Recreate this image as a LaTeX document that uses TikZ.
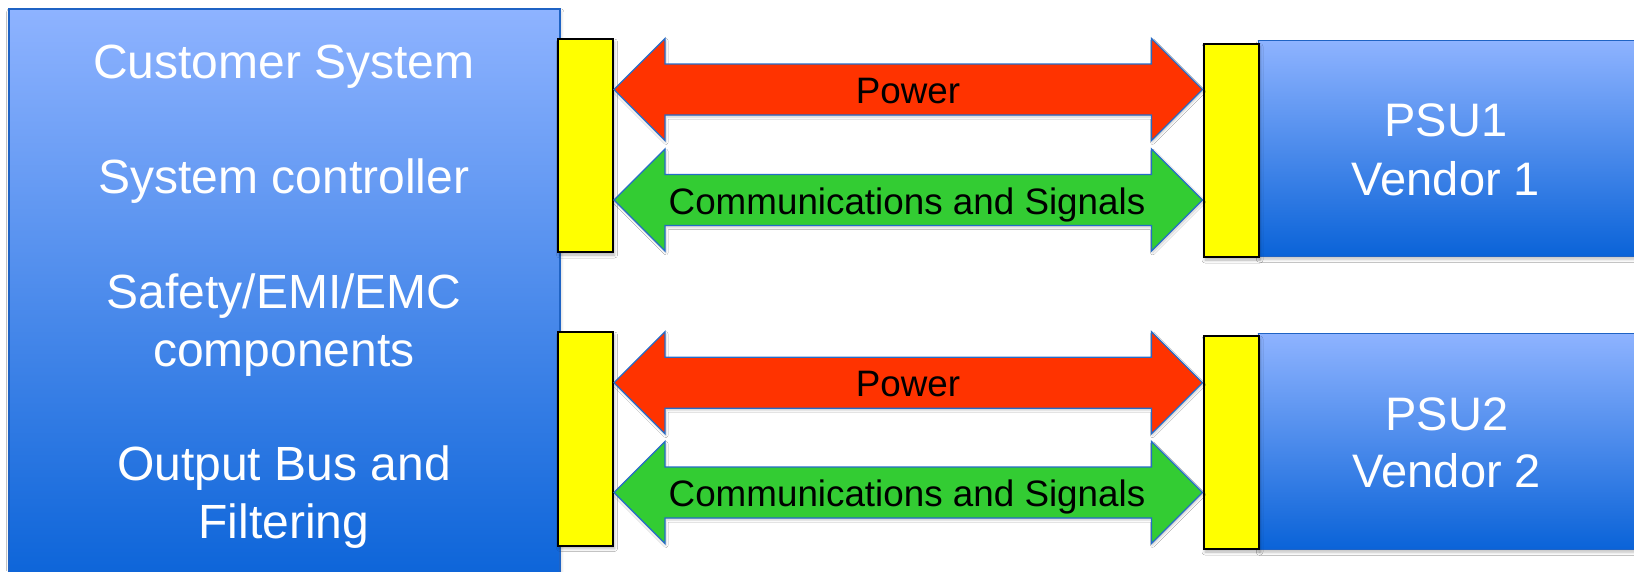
\documentclass[tikz,border=0pt]{standalone}
\usepackage{fontspec}
\setmainfont{Liberation Sans}
\usetikzlibrary{calc,shadows.blur}
\definecolor{boxtop}{RGB}{142,179,255}
\definecolor{boxbot}{RGB}{10,99,216}
\definecolor{boxline}{RGB}{31,99,196}
\definecolor{pwr}{RGB}{255,51,0}
\definecolor{sig}{RGB}{51,204,51}
\definecolor{arrline}{RGB}{38,108,200}
\definecolor{conn}{RGB}{255,255,0}
\newcommand\mkarrow[4]{%
  \coordinate (tmpL) at (#2.east |- #1);
  \coordinate (tmpR) at (#3.west |- #1);
  \draw[#4] (tmpL) -- ($(tmpL)+(51,-51)$) -- ($(tmpL)+(51,-25.5)$)
    -- ($(tmpR)+(-51,-25.5)$) -- ($(tmpR)+(-51,-51)$) -- (tmpR)
    -- ($(tmpR)+(-51,51)$) -- ($(tmpR)+(-51,25.5)$)
    -- ($(tmpL)+(51,25.5)$) -- ($(tmpL)+(51,51)$) -- cycle;
}
\begin{document}
\begin{tikzpicture}[x=1pt,y=-1pt,
  bluebox/.style={draw=boxline, line width=1.5pt, top color=boxtop, bottom color=boxbot,
    rectangle, inner sep=0pt, anchor=north west,
    blur shadow={shadow xshift=1pt, shadow yshift=-3pt, shadow blur radius=3pt, shadow opacity=25}},
  connbox/.style={draw=black, line width=2pt, fill=conn, rectangle, inner sep=0pt, anchor=north west,
    blur shadow={shadow xshift=1.5pt, shadow yshift=-3pt, shadow blur radius=3pt, shadow opacity=30}},
  pwrarrow/.style={draw=arrline, line width=1.3pt, fill=pwr, line join=miter,
    blur shadow={shadow xshift=1pt, shadow yshift=-2pt, shadow blur radius=2pt, shadow opacity=20}},
  sigarrow/.style={draw=arrline, line width=1.3pt, fill=sig, line join=miter,
    blur shadow={shadow xshift=1pt, shadow yshift=-2pt, shadow blur radius=2pt, shadow opacity=20}},
  bigtext/.style={text=white, font=\fontsize{48}{57.5}\selectfont, anchor=base, inner sep=0pt},
  psutext/.style={text=white, font=\fontsize{47}{57}\selectfont, anchor=base, inner sep=0pt},
  arrtext/.style={text=black, font=\fontsize{36.8}{43}\selectfont, anchor=base, inner sep=0pt}
]
\clip (0,0) rectangle (1634,571);
\fill[white] (0,0) rectangle (1634,571);

% main boxes
\node[bluebox, minimum width=551pt, minimum height=580pt] (cust) at (8,8) {};
\node[bluebox, minimum width=400pt, minimum height=216pt] (psu1) at (1257.5,39.5) {};
\node[bluebox, minimum width=400pt, minimum height=216pt] (psu2) at (1257.5,332.5) {};

% connectors
\node[connbox, minimum width=55pt, minimum height=213pt] (cL1) at (557,38) {};
\node[connbox, minimum width=55pt, minimum height=213.5pt] (cR1) at (1202.5,42.5) {};
\node[connbox, minimum width=55pt, minimum height=213.5pt] (cL2) at (557,331) {};
\node[connbox, minimum width=55pt, minimum height=213pt] (cR2) at (1202.5,335) {};

% arrow levels
\coordinate (y1) at (0,89.5);
\coordinate (y2) at (0,200);
\coordinate (y3) at (0,382.7);
\coordinate (y4) at (0,492.5);

\mkarrow{y1}{cL1}{cR1}{pwrarrow}
\mkarrow{y2}{cL1}{cR1}{sigarrow}
\mkarrow{y3}{cL2}{cR2}{pwrarrow}
\mkarrow{y4}{cL2}{cR2}{sigarrow}

% arrow labels
\node[arrtext] (t1) at (908,103.5) {Power};
\node[arrtext] (t2) at (907,214.3) {Communications and Signals};
\node[arrtext] (t3) at (908,396.7) {Power};
\node[arrtext] (t4) at (907,506.7) {Communications and Signals};

% customer system text
\node[bigtext] (l1) at (284,78.3) {Customer System};
\node[bigtext] (l2) at (284,193) {System controller};
\node[bigtext] (l3) at (284,308.3) {Safety/EMI/EMC};
\node[bigtext] (l4) at (284,366) {components};
\node[bigtext] (l5) at (284,480.7) {Output Bus and};
\node[bigtext] (l6) at (284,538) {Filtering};

% PSU text
\node[psutext] (p1a) at (1446,136.7) {PSU1};
\node[psutext] (p1b) at (1446,195) {Vendor 1};
\node[psutext] (p2a) at (1447,430) {PSU2};
\node[psutext] (p2b) at (1447,487) {Vendor 2};
\end{tikzpicture}
\end{document}
